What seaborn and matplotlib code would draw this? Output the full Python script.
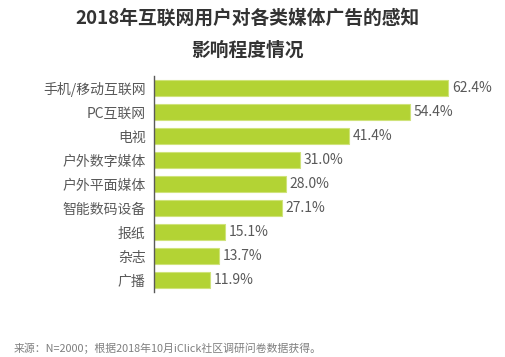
import matplotlib
matplotlib.use("Agg")
import matplotlib.pyplot as plt
import seaborn as sns
import pandas as pd

categories = ["手机/移动互联网", "PC互联网", "电视", "户外数字媒体", "户外平面媒体",
              "智能数码设备", "报纸", "杂志", "广播"]
values = [62.4, 54.4, 41.4, 31.0, 28.0, 27.1, 15.1, 13.7, 11.9]

df = pd.DataFrame({"media": categories, "pct": values})

sns.set_style("white")
plt.rcParams['font.family'] = ['Noto Sans CJK SC', 'DejaVu Sans']

fig = plt.figure(figsize=(5.05, 3.57), dpi=100)
ax = fig.add_axes([0.305, 0.182, 0.653, 0.605])

sns.barplot(data=df, x="pct", y="media", color="#b3d334", saturation=1,
            width=0.68, edgecolor="#cfe37a", linewidth=0.8, ax=ax)

for i, v in enumerate(values):
    ax.text(v + 0.8, i, f"{v:.1f}%", va="center", ha="left",
            fontsize=10, color="#595959")

ax.set_xlim(0, 70)
ax.set_ylim(8.5, -0.5)
ax.set_xlabel("")
ax.set_ylabel("")
ax.set_xticks([])
ax.tick_params(axis="y", length=0, labelsize=10, labelcolor="#595959", pad=6)
for s in ["top", "right", "bottom"]:
    ax.spines[s].set_visible(False)
ax.spines["left"].set_color("#595959")
ax.spines["left"].set_linewidth(1)

fig.text(0.49, 0.95, "2018年互联网用户对各类媒体广告的感知", ha="center", va="center",
         fontsize=13.5, fontweight="bold", color="#333333")
fig.text(0.49, 0.86, "影响程度情况", ha="center", va="center",
         fontsize=13.5, fontweight="bold", color="#333333")
fig.text(0.026, 0.025, "来源：N=2000；根据2018年10月iClick社区调研问卷数据获得。",
         ha="left", va="center", fontsize=7.8, color="#7f7f7f")

fig.savefig("out.png", dpi=100)
